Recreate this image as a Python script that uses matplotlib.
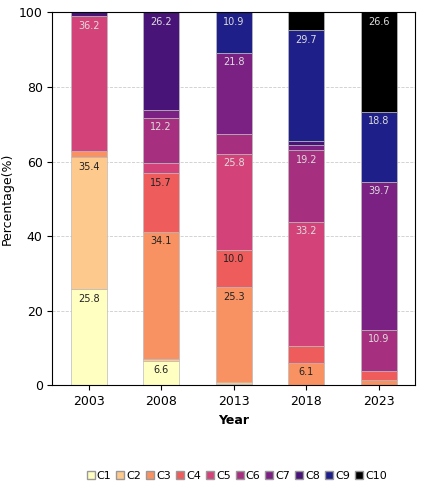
import matplotlib.pyplot as plt
import numpy as np

years = ["2003", "2008", "2013", "2018", "2023"]
classes = ["C1", "C2", "C3", "C4", "C5", "C6", "C7", "C8", "C9", "C10"]
colors = ["#FFFFC2", "#FDC98C", "#F99262", "#EE5C5C", "#D3437A", "#A6307F",
          "#7A2183", "#481478", "#1E1F88", "#000000"]

# share of each class per year (%), rows = classes
c1 = [25.8, 6.6, 0.5, 0.0, 0.0]
c2 = [35.4, 0.5, 0.5, 0.0, 0.0]
c3 = [1.5, 34.1, 25.3, 6.1, 1.5]
c4 = [0.0, 15.7, 10.0, 4.5, 2.5]
c5 = [36.2, 2.7, 25.8, 33.2, 0.0]
c6 = [0.0, 12.2, 5.2, 19.2, 10.9]
c7 = [0.0, 2.0, 21.8, 1.5, 39.7]
c8 = [1.1, 26.2, 0.0, 1.0, 0.0]
c9 = [0.0, 0.0, 10.9, 29.7, 18.8]
c10 = [0.0, 0.0, 0.0, 4.8, 26.6]
shares = [c1, c2, c3, c4, c5, c6, c7, c8, c9, c10]

fig = plt.figure(figsize=(4.37, 4.91), dpi=100)
ax = fig.add_axes([0.12, 0.215, 0.83, 0.76])
x = np.arange(len(years))
bottom = np.zeros(len(years))
for i, vals in enumerate(shares):
    vals = np.array(vals)
    ax.bar(x, vals, bottom=bottom, width=0.5, color=colors[i],
           edgecolor="#bbbbbb", linewidth=0.5, label=classes[i], zorder=2)
    for j, v in enumerate(vals):
        if v >= 5.5:
            tc = "#222222" if i < 4 else "#dddddd"
            ax.text(x[j], bottom[j] + v - 1.2, f"{v:.1f}", ha="center", va="top",
                    fontsize=7, color=tc, zorder=3)
    bottom += vals

ax.set_ylim(0, 100)
ax.set_xlim(-0.5, 4.5)
ax.set_xticks(x)
ax.set_xticklabels(years, fontsize=9)
ax.set_yticks([0, 20, 40, 60, 80, 100])
ax.tick_params(labelsize=9)
ax.yaxis.grid(True, linestyle="--", color="#cccccc", linewidth=0.6, zorder=0)
ax.set_xlabel("Year", fontsize=9, fontweight="bold")
ax.set_ylabel("Percentage(%)", fontsize=9)

handles = [plt.Line2D([], [], marker="s", linestyle="", markersize=6,
                      markerfacecolor=c, markeredgecolor="#999999") for c in colors]
fig.legend(handles, classes, loc="lower center", ncol=10, frameon=False,
           fontsize=8, handletextpad=0.05, columnspacing=0.3, handlelength=1.0,
           bbox_to_anchor=(0.54, 0.0))

fig.savefig("out.png", dpi=100)
